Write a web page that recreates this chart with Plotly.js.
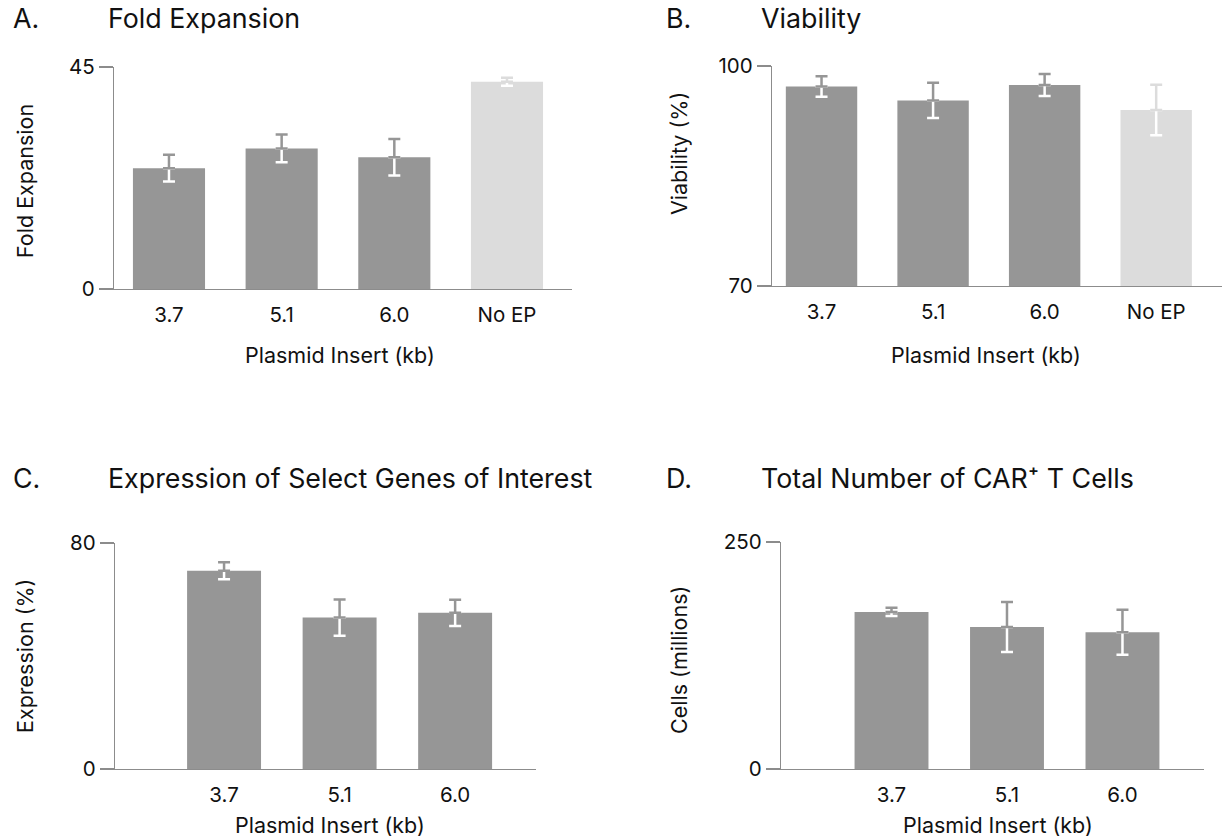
<!DOCTYPE html>
<html>
<head>
<meta charset="utf-8">
<script src="https://cdn.plot.ly/plotly-3.0.1.min.js"></script>
<style>
  html, body { margin: 0; padding: 0; background: #ffffff; }
  #chart { width: 1222px; height: 839px; }
</style>
</head>
<body>
<div id="chart"></div>
<script>
// ---------- data ----------
const categoriesAB = ['3.7', '5.1', '6.0', 'No EP'];
const categoriesCD = ['3.7', '5.1', '6.0'];

const foldExpansion = [24.5, 28.5, 26.7, 42.0];
const foldExpansionErr = [2.7, 2.8, 3.7, 0.8];

const viability = [97.2, 95.3, 97.4, 94.0];
const viabilityErr = [1.4, 2.4, 1.5, 3.45];

const expression = [70.2, 53.6, 55.3];
const expressionErr = [3.0, 6.4, 4.65];

const carTCells = [173.0, 156.3, 150.7];
const carTCellsErr = [4.6, 27.5, 24.8];

const colorsAB = ['#969696', '#969696', '#969696', '#dcdcdc'];
const colorsCD = ['#969696', '#969696', '#969696'];

// ---------- helpers ----------
const W = 1222, H = 839;
const px = v => v / W;
const py = v => 1 - v / H;
const FONT = 'Inter, "Noto Sans", Arial, sans-serif';
const AXIS_COLOR = '#8c8c8c';
const TICK_SIZE = 20.5;
const AXTITLE_SIZE = 21.5;

function panelTraces(cats, vals, errs, colors, xa, ya) {
  const traces = [];
  traces.push({
    type: 'bar', x: cats, y: vals, width: 0.64,
    marker: { color: colors, line: { width: 0 } },
    xaxis: xa, yaxis: ya, hoverinfo: 'skip', showlegend: false
  });
  // lower half of the error bars (white, over the bar)
  traces.push({
    type: 'scatter', mode: 'markers', x: cats, y: vals,
    marker: { size: 1, opacity: 0 },
    error_y: { type: 'data', symmetric: false, array: vals.map(() => 0), arrayminus: errs,
               color: '#ffffff', thickness: 2.5, width: 6 },
    xaxis: xa, yaxis: ya, hoverinfo: 'skip', showlegend: false
  });
  // upper half of the error bars, coloured like the bar
  const groups = [...new Set(colors)];
  groups.forEach(c => {
    const yv = vals.map((v, i) => colors[i] === c ? v : null);
    traces.push({
      type: 'scatter', mode: 'markers', x: cats, y: yv,
      marker: { size: 1, opacity: 0 },
      error_y: { type: 'data', symmetric: false, array: errs, arrayminus: vals.map(() => 0),
                 color: c, thickness: 2.5, width: 6 },
      xaxis: xa, yaxis: ya, hoverinfo: 'skip', showlegend: false
    });
  });
  return traces;
}

const data = [].concat(
  panelTraces(categoriesAB, foldExpansion, foldExpansionErr, colorsAB, 'x', 'y'),
  panelTraces(categoriesAB, viability, viabilityErr, colorsAB, 'x2', 'y2'),
  panelTraces(categoriesCD, expression, expressionErr, colorsCD, 'x3', 'y3'),
  panelTraces(categoriesCD, carTCells, carTCellsErr, colorsCD, 'x4', 'y4')
);

function xAxis(domainPx, range, anchor) {
  return {
    domain: [px(domainPx[0]), px(domainPx[1])], anchor: anchor,
    type: 'category', range: range,
    showline: true, linecolor: AXIS_COLOR, linewidth: 1.2,
    ticks: '', showgrid: false, zeroline: false,
    tickfont: { family: FONT, size: TICK_SIZE, color: '#111111' },
    ticklabelstandoff: 7, fixedrange: true
  };
}
function yAxis(domainPx, range, anchor) {
  return {
    domain: [py(domainPx[1]), py(domainPx[0])], anchor: anchor,
    range: range, tickvals: range, ticktext: range.map(String),
    showline: true, linecolor: AXIS_COLOR, linewidth: 1.2,
    ticks: 'outside', ticklen: 14, tickcolor: AXIS_COLOR, tickwidth: 1.2,
    showgrid: false, zeroline: false,
    tickfont: { family: FONT, size: TICK_SIZE, color: '#111111' },
    fixedrange: true
  };
}

function ann(text, x, y, opts) {
  return Object.assign({
    text: text, x: px(x), y: py(y), xref: 'paper', yref: 'paper',
    showarrow: false, xanchor: 'center', yanchor: 'middle',
    font: { family: FONT, size: AXTITLE_SIZE, color: '#111111' }
  }, opts || {});
}
const titleFont = { family: FONT, size: 26.8, color: '#111111' };

const annotations = [
  // panel titles
  ann('A.', 11, 18, { xanchor: 'left', font: titleFont }),
  ann('Fold Expansion', 106, 18, { xanchor: 'left', font: titleFont }),
  ann('B.', 664, 18, { xanchor: 'left', font: titleFont }),
  ann('Viability', 759, 18, { xanchor: 'left', font: titleFont }),
  ann('C.', 11, 478, { xanchor: 'left', font: titleFont }),
  ann('Expression of Select Genes of Interest', 106, 478, { xanchor: 'left', font: titleFont }),
  ann('D.', 664, 478, { xanchor: 'left', font: titleFont }),
  ann('Total Number of CAR\u207A T Cells', 759, 478, { xanchor: 'left', font: titleFont }),
  // axis titles
  ann('Plasmid Insert (kb)', 340, 355),
  ann('Plasmid Insert (kb)', 986, 355),
  ann('Plasmid Insert (kb)', 330, 825),
  ann('Plasmid Insert (kb)', 998, 825),
  ann('Fold Expansion', 25, 181, { textangle: -90 }),
  ann('Viability (%)', 679, 154, { textangle: -90 }),
  ann('Expression (%)', 25, 656, { textangle: -90 }),
  ann('Cells (millions)', 679, 660, { textangle: -90 })
];

const layout = {
  width: W, height: H,
  margin: { l: 0, r: 0, t: 0, b: 0, pad: 0 },
  paper_bgcolor: '#ffffff', plot_bgcolor: 'rgba(0,0,0,0)',
  showlegend: false, bargap: 0.36,
  font: { family: FONT, color: '#111111' },
  xaxis:  xAxis([114, 572], [-0.488, 3.577], 'y'),
  yaxis:  yAxis([67, 289], [0, 45], 'x'),
  xaxis2: xAxis([772, 1222], [-0.444, 3.59], 'y2'),
  yaxis2: yAxis([66, 286], [70, 100], 'x2'),
  xaxis3: xAxis([115, 536], [-0.944, 2.70], 'y3'),
  yaxis3: yAxis([543, 769], [0, 80], 'x3'),
  xaxis4: xAxis([781, 1204], [-0.957, 2.706], 'y4'),
  yaxis4: yAxis([542, 769], [0, 250], 'x4'),
  annotations: annotations
};

Plotly.newPlot('chart', data, layout, { staticPlot: true, displayModeBar: false });
</script>
</body>
</html>
